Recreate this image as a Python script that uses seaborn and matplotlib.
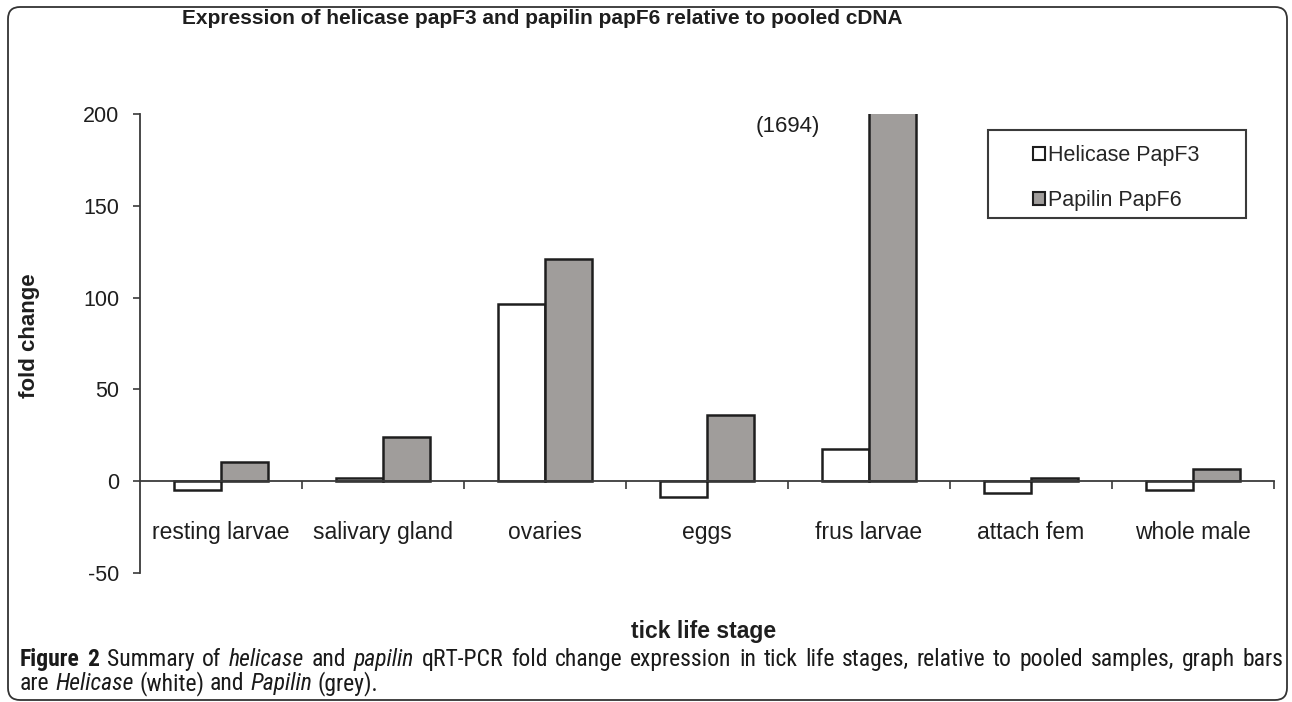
import pandas as pd
import matplotlib
matplotlib.use('Agg')
import matplotlib.pyplot as plt
import matplotlib.font_manager as fm
from matplotlib.patches import Patch, Rectangle, FancyBboxPatch
from matplotlib.transforms import IdentityTransform
import seaborn as sns

# data
stages = ['resting larvae', 'salivary gland', 'ovaries', 'eggs',
          'frus larvae', 'attach fem', 'whole male']
helicase = [-4.7, 2.0, 96.5, -8.7, 17.4, -6.2, -4.8]
papilin = [10.2, 24.3, 121.0, 35.8, 1694.0, 1.5, 6.8]
series = ['Helicase PapF3', 'Papilin PapF6']
yticks = [-50, 0, 50, 100, 150, 200]

df = pd.DataFrame({
    'stage': stages * 2,
    'series': [series[0]] * len(stages) + [series[1]] * len(stages),
    'fold': helicase + papilin,
})

sns.set_style('white')
plt.rcParams['font.family'] = ['Liberation Sans', 'DejaVu Sans']

# narrow font for the caption if one is around
installed = sorted({f.name for f in fm.fontManager.ttflist})
cap_font = 'Roboto'
for cand in ['Liberation Sans Narrow', 'Roboto Condensed', 'Open Sans Condensed',
             'Noto Sans Condensed']:
    if cand in installed:
        cap_font = cand
        break
else:
    narrow = [n for n in installed if 'Condensed' in n or 'Narrow' in n]
    if narrow:
        cap_font = narrow[0]

colors = {'Helicase PapF3': 'white', 'Papilin PapF6': '#a09d9b'}
edge = '#1e1e1e'

fig = plt.figure(figsize=(12.92, 7.02), dpi=100)
ax = fig.add_axes([0.1084, 0.1838, 0.8777, 0.6538])

sns.barplot(data=df, x='stage', y='fold', hue='series', order=stages,
            hue_order=series, palette=colors, width=0.58, gap=0,
            edgecolor=edge, linewidth=1.8, saturation=1, legend=False, ax=ax)

ax.set_ylim(-50, 200)
ax.set_xlim(-0.5, len(stages) - 0.5)
ax.set_yticks(yticks)
ax.set_yticklabels([str(v) for v in yticks])

for s in ['top', 'right']:
    ax.spines[s].set_visible(False)
ax.spines['bottom'].set_position(('data', 0))
for s in ['left', 'bottom']:
    ax.spines[s].set_color('#3a3a3a')
    ax.spines[s].set_linewidth(1.3)

ax.tick_params(axis='y', direction='out', length=5, width=1.2, color='#3a3a3a',
               pad=10, labelsize=15.5, labelcolor='#1e1e1e', left=True)
ax.tick_params(axis='x', which='major', length=0, pad=29, labelsize=16.5,
               labelcolor='#1e1e1e')
ax.set_xticks([i + 0.5 for i in range(len(stages))], minor=True)
ax.tick_params(axis='x', which='minor', direction='out', length=6, width=1.2,
               color='#3a3a3a', bottom=True)

ax.set_ylabel('fold change', fontsize=16, fontweight='bold', color='#1e1e1e')
ax.yaxis.set_label_coords(-0.088, 0.518)
ax.set_xlabel('tick life stage', fontsize=16.5, fontweight='bold', color='#1e1e1e')
ax.xaxis.set_label_coords(0.497, -0.102)

# clipped value note above the frus larvae bar
ax.text(3.5, 193, '(' + str(int(papilin[4])) + ')', ha='center', va='center',
        fontsize=16, color='#1e1e1e')

# legend: small square handles, plain rectangular frame
handles = [Patch(facecolor=colors[s], edgecolor=edge, linewidth=1.5) for s in series]
ax.legend(handles, series, loc='center', bbox_to_anchor=(0.861, 0.861),
          frameon=False, fontsize=15.5, handlelength=0.55, handleheight=0.55,
          handletextpad=0.15, labelspacing=1.1, borderpad=0)
ax.add_patch(Rectangle((0.748, 0.773), 0.227, 0.192, transform=ax.transAxes,
                       fill=False, edgecolor='#3a3a3a', linewidth=1.5, clip_on=False))

fig.text(542 / 1292, 1 - 19 / 702,
         'Expression of helicase papF3 and papilin papF6 relative to pooled cDNA',
         ha='center', va='center', fontsize=15, fontweight='bold', color='#1e1e1e')

# rounded panel border
fig.patches.append(FancyBboxPatch((8, 2), 1279, 693,
                                  boxstyle='round,pad=0,rounding_size=12',
                                  transform=IdentityTransform(), fill=False,
                                  edgecolor='#333333', linewidth=1.3))

# caption with bold / italic runs
line1 = [('Figure', 'b'), ('2', 'b'), ('Summary', 'n'), ('of', 'n'), ('helicase', 'i'),
         ('and', 'n'), ('papilin', 'i')] + [(w, 'n') for w in
         'qRT-PCR fold change expression in tick life stages, relative to pooled samples, graph bars'.split()]
line2 = [('are', 'n'), ('Helicase', 'i'), ('(white)', 'n'), ('and', 'n'),
         ('Papilin', 'i'), ('(grey).', 'n')]

renderer = fig.canvas.get_renderer()


def style(st):
    return dict(fontweight='bold' if st == 'b' else 'normal',
                fontstyle='italic' if st == 'i' else 'normal')


def widths(words, size):
    out = []
    for w, st in words:
        t = fig.text(0, 0, w, fontsize=size, family=cap_font, **style(st))
        out.append(t.get_window_extent(renderer).width)
        t.remove()
    return out


x0, x1 = 20, 1283
base = 14
w1 = widths(line1, base)
space = 0.24 * base * 100 / 72
natural = sum(w1) + space * (len(line1) - 1)
size = min(base * (x1 - x0) * 0.99 / natural, 17)
w1 = widths(line1, size)
gap = (x1 - x0 - sum(w1)) / (len(line1) - 1)
x = x0
for (w, st), wd in zip(line1, w1):
    fig.text(x / 1292, 1 - 666 / 702, w, fontsize=size, family=cap_font,
             va='baseline', color='#1a1a1a', **style(st))
    x += wd + gap

w2 = widths(line2, size)
sp = 0.24 * size * 100 / 72
x = x0
for (w, st), wd in zip(line2, w2):
    fig.text(x / 1292, 1 - 690 / 702, w, fontsize=size, family=cap_font,
             va='baseline', color='#1a1a1a', **style(st))
    x += wd + sp

fig.savefig('out.png', dpi=100)
